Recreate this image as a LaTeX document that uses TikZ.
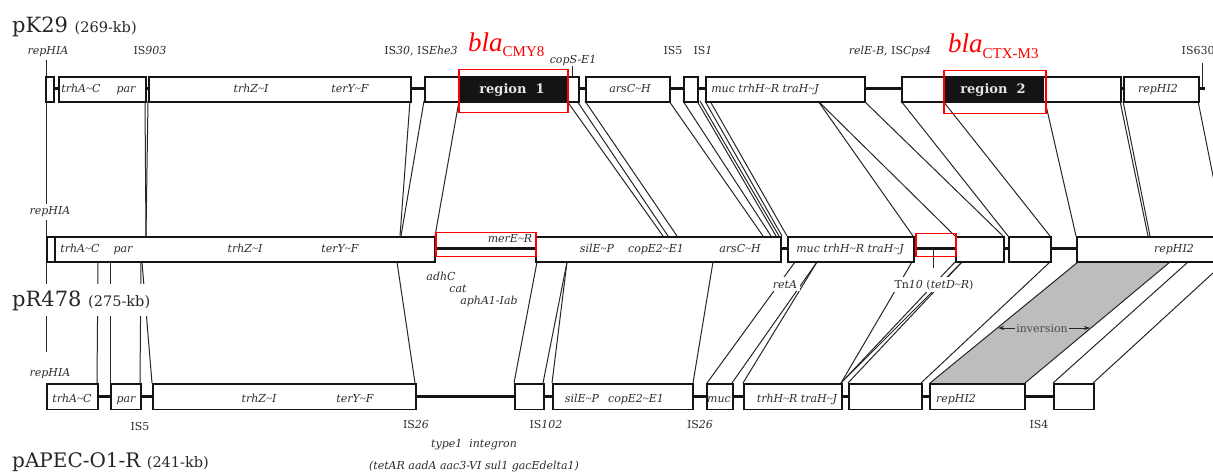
\documentclass[tikz,border=0pt]{standalone}
\usepackage{fontspec}
\usepackage{graphicx}
\usetikzlibrary{arrows.meta}
\setmainfont{DejaVu Serif}
\newfontfamily\tnr{Liberation Serif}
\newcommand\tld{{\tnr\textasciitilde}}
\definecolor{lab}{HTML}{2C2C2C}
\definecolor{ink}{HTML}{141414}
\definecolor{invfill}{HTML}{BDBDBD}
\begin{document}
\begin{tikzpicture}[x=1pt,y=-1pt,
  gbox/.style={draw=ink, line width=1.9pt, fill=white, inner sep=0pt, anchor=north west, minimum height=25.5pt},
  regbox/.style={draw=ink, line width=1.9pt, fill=ink, inner sep=0pt, anchor=north west, minimum height=25.5pt},
  rbox/.style={draw=red, line width=1.5pt, inner sep=0pt, anchor=north west},
  bbone/.style={draw=ink, line width=3pt},
  conn/.style={draw=black!85, line width=1pt},
  gl/.style={font=\fontsize{11}{12}\selectfont\itshape, text=lab, inner sep=0.5pt, anchor=base},
  gr/.style={font=\fontsize{11}{12}\selectfont, text=lab, inner sep=0.5pt, anchor=base},
  wfill/.style={fill=white, inner sep=2.5pt},
  ttl/.style={anchor=base west, inner sep=0pt, text=black!85},
  reglab/.style={font=\fontsize{13}{13}\selectfont\bfseries, text=black!10, anchor=base, inner sep=0pt}
]
\useasboundingbox (0,0) rectangle (1213,473);
\clip (0,0) rectangle (1213,473);

% inversion band
\coordinate (g1) at (1078,262);
\coordinate (g2) at (1170,262);
\coordinate (g3) at (1025,383);
\coordinate (g4) at (930,383);
\fill[invfill] (g1) -- (g2) -- (g3) -- (g4) -- cycle;
\draw[conn] (g1) -- (g4);
\draw[conn] (g2) -- (g3);

% connectors
\foreach \n/\xa/\ya/\xb/\yb in {
 k1/46/60/46/236,
 k2/145/101/146/236, k3/148/101/146/236,
 k4/410/101/400/236, k5/424/101/401/236,
 k6/459/101/435/236,
 k7/567/101/663/236, k8/577/101/668/236, k9/585/101/677/236,
 k10/669/101/763/236, k11/683/101/771/236, k12/697/101/776/236,
 k13/700/101/779/236, k14/705/101/782/236, k15/710/101/787/236,
 k16/818/101/913/236, k17/818/101/955/236,
 k18/864/101/1003/236, k19/901/101/1008/236,
 k20/943/101/1050/236, k21/1045/101/1076/236,
 k22/1120/101/1148/236, k23/1123/101/1150/236,
 k24/1198/101/1225/236,
 k25/572/66/572/76, k26/1202/63/1202/88,
 m1/46/262/46/352, m2/98/262/97/383, m3/110/262/110/383,
 m4/141/262/140/383, m5/142/262/152/383,
 m6/397/262/415/383, m7/537/262/514/383,
 m8/567/262/543/383, m9/567/262/552/383,
 m10/713/262/693/383, m11/795/262/707/383,
 m12/817/262/732/383, m13/817/262/743/383,
 m14/912/262/841/383, m15/955/262/841/383,
 m16/962/262/841/383, m17/962/262/848/383,
 m18/1050/262/921/383, m20/1188/262/1053/383,
 m21/1225/262/1093/383, m22/933/248/933/268}
{
  \coordinate (\n-s) at (\xa,\ya);
  \coordinate (\n-e) at (\xb,\yb);
  \draw[conn] (\n-s) -- (\n-e);
}

% backbones
\coordinate (b1s) at (45,88.5);  \coordinate (b1e) at (1205,88.5);
\coordinate (b2s) at (46,249);   \coordinate (b2e) at (1215,249);
\coordinate (b3s) at (46,396);   \coordinate (b3e) at (1093,396);
\draw[bbone] (b1s) -- (b1e);
\draw[bbone] (b2s) -- (b2e);
\draw[bbone] (b3s) -- (b3e);

% boxes row 1
\foreach \n/\xa/\xb in {r1a/45/53, r1b/58/145, r1c/148/410, r1d/424/578, r1e/585/669,
  r1f/683/697, r1g/705/864, r1h/901/1120, r1i/1123/1198}
  \node[gbox, minimum width={(\xb-\xa)*1pt}] (\n) at (\xa,76) {};
% boxes row 2
\foreach \n/\xa/\xb in {r2a/46/54, r2b/54/434, r2c/535/780, r2d/787/913,
  r2e/955/1003, r2f/1008/1050, r2g/1076/1225}
  \node[gbox, minimum width={(\xb-\xa)*1pt}] (\n) at (\xa,236) {};
% boxes row 3
\foreach \n/\xa/\xb in {r3a/46/97, r3b/110/140, r3c/152/415, r3d/514/543, r3e/552/692,
  r3f/706/732, r3g/743/841, r3h/848/921, r3i/929/1024, r3j/1053/1093}
  \node[gbox, minimum width={(\xb-\xa)*1pt}] (\n) at (\xa,383) {};

% black regions
\node[regbox, minimum width=106pt] (reg1) at (459,76) {};
\node[regbox, minimum width=98pt] (reg2) at (944,76) {};
\node[reglab] (reg1l) at (512,94) {region\ \ 1};
\node[reglab] (reg2l) at (993,94) {region\ \ 2};

% red boxes
\node[rbox, minimum width=109pt, minimum height=43pt] (rr1) at (458,69) {};
\node[rbox, minimum width=102pt, minimum height=43pt] (rr2) at (943,70) {};
\node[rbox, minimum width=100pt, minimum height=24pt] (rr3) at (435,232) {};
\node[rbox, minimum width=40pt, minimum height=23pt] (rr4) at (915,233) {};

% red labels
\node[anchor=base west, inner sep=0pt, text=red] (bla1) at (468,52)
  {\tnr\fontsize{27}{27}\selectfont\itshape bla\raisebox{-5pt}{\upshape\fontsize{15}{15}\selectfont CMY8}};
\node[anchor=base west, inner sep=0pt, text=red] (bla2) at (948,53)
  {\tnr\fontsize{27}{27}\selectfont\itshape bla\raisebox{-6pt}{\upshape\fontsize{15}{15}\selectfont CTX-M3}};

% titles
\node[ttl] (tk29) at (12,33) {\fontsize{21}{21}\selectfont pK29 {\fontsize{14.5}{14.5}\selectfont (269-kb)}};
\node[ttl, fill=white, inner ysep=6pt] (tr478) at (12,306) {\fontsize{21}{21}\selectfont pR478 {\fontsize{14.5}{14.5}\selectfont (275-kb)}};
\node[ttl] (tapec) at (12,467) {\fontsize{20}{20}\selectfont pAPEC-O1-R {\fontsize{14.5}{14.5}\selectfont (241-kb)}};

% row 1 labels
\node[gl] (l1a) at (48,55) {repHIA};
\node[gr] (l1b) at (150,55) {IS\textit{903}};
\node[gr] (l1c) at (421,55) {IS\textit{30}, IS\textit{Ehe3}};
\node[gl] (l1d) at (573,64) {copS-E1};
\node[gr] (l1e) at (673,55) {IS5};
\node[gr] (l1f) at (703,55) {IS\textit{1}};
\node[gr] (l1g) at (890,55) {\textit{relE-B}, IS\textit{Cps4}};
\node[gr, anchor=base west] (l1h) at (1181,55) {IS630};
\node[gl] (l1i) at (81,93) {trhA\tld C};
\node[gl] (l1j) at (126,93) {par};
\node[gl] (l1k) at (251,93) {trhZ\tld I};
\node[gl] (l1l) at (350,93) {terY\tld F};
\node[gl] (l1m) at (630,93) {arsC\tld H};
\node[gl] (l1n) at (765,93) {muc trhH\tld R traH\tld J};
\node[gl] (l1o) at (1158,93) {repHI2};

% row 2 labels
\node[gl, wfill] (l2a) at (50,215) {repHIA};
\node[gl] (l2b) at (80,253) {trhA\tld C};
\node[gl] (l2c) at (123,253) {par};
\node[gl] (l2d) at (245,253) {trhZ\tld I};
\node[gl] (l2e) at (340,253) {terY\tld F};
\node[gl] (l2f) at (510,243) {merE\tld R};
\node[gl] (l2g) at (597,253) {silE\tld P};
\node[gl] (l2h) at (656,253) {copE2\tld E1};
\node[gl] (l2i) at (740,253) {arsC\tld H};
\node[gl] (l2j) at (850,253) {muc trhH\tld R traH\tld J};
\node[gl] (l2k) at (1174,253) {repHI2};
\node[gl] (l2l) at (441,280) {adhC};
\node[gl] (l2m) at (458,292) {cat};
\node[gl] (l2n) at (489,304) {aphA1-Iab};
\node[gl, wfill] (l2o) at (785,288) {retA};
\node[gr, wfill] (l2p) at (934,288) {Tn\textit{10} (\textit{tetD\tld R})};

% row 3 labels
\node[gl, wfill] (l3a) at (50,376) {repHIA};
\node[gl] (l3b) at (72,402) {trhA\tld C};
\node[gl] (l3c) at (126,402) {par};
\node[gl] (l3d) at (259,402) {trhZ\tld I};
\node[gl] (l3e) at (355,402) {terY\tld F};
\node[gl] (l3f) at (582,402) {silE\tld P};
\node[gl] (l3g) at (636,402) {copE2\tld E1};
\node[gl] (l3h) at (719,402) {muc};
\node[gl] (l3i) at (797,402) {trhH\tld R traH\tld J};
\node[gl] (l3j) at (956,402) {repHI2};
\node[gr] (l3k) at (140,430) {IS5};
\node[gr] (l3l) at (416,428) {IS\textit{26}};
\node[gr] (l3m) at (546,428) {IS\textit{102}};
\node[gr] (l3n) at (700,428) {IS\textit{26}};
\node[gr] (l3o) at (1039,428) {IS4};
\node[gl] (l3p) at (474,447) {type1\ \ integron};
\node[gl] (l3q) at (474,469) {(tetAR aadA aac3-VI sul1 gacEdelta1)};

% inversion arrow
\coordinate (invL) at (998,328);
\coordinate (invR) at (1090,328);
\draw[line width=0.8pt, black!85, {Stealth[length=6pt,width=4pt]}-{Stealth[length=6pt,width=4pt]}] (invL) -- (invR);
\node[gr, fill=invfill, text=black!70, inner sep=1.5pt] (linv) at (1042,332) {inversion};
\end{tikzpicture}
\end{document}
